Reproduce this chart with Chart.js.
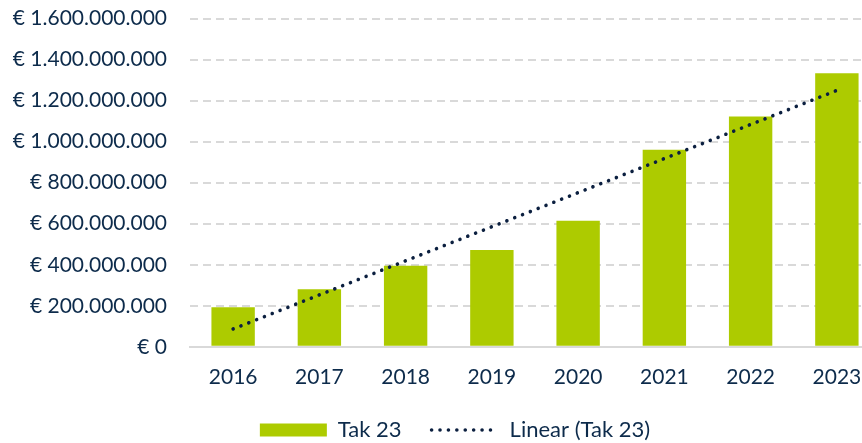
<!DOCTYPE html>
<html>
<head>
<meta charset="utf-8">
<script src="https://cdn.jsdelivr.net/npm/chart.js@4/dist/chart.umd.min.js"></script>
<style>
html,body{margin:0;padding:0;background:#fff;overflow:hidden;}
#wrap{width:880px;height:443px;}
</style>
</head>
<body>
<div id="wrap"><canvas id="c" width="880" height="443"></canvas></div>
<script>
const categories = ['2016','2017','2018','2019','2020','2021','2022','2023'];
const tak23 = [193e6, 281e6, 395e6, 472e6, 615e6, 961e6, 1123e6, 1334e6];
// trendline endpoints (2016 and 2023)
const linearTak23 = [87e6, null, null, null, null, null, null, 1250e6];
const seriesNames = ['Tak 23', 'Linear (Tak 23)'];
const yMax = 1600e6;
const yStep = 200e6;

const navy = '#0D2B4B';
const dotColor = '#0B1F3F';
const FONT = 'Lato';
const DOT_DASH = [0.01, 8.4];

function euro(v){
  return '€ ' + String(Math.round(v)).replace(/\B(?=(\d{3})+(?!\d))/g, '.');
}

const legendShift = {
  id: 'legendShift',
  afterLayout(chart){
    const lg = chart.legend;
    if (!lg) return;
    const dx = 15;
    const dy = 451 - lg.bottom;
    lg.left += dx; lg.right += dx;
    lg.top += dy; lg.bottom += dy;
  }
};

new Chart(document.getElementById('c'), {
  type: 'bar',
  data: {
    labels: categories,
    datasets: [
      {
        type: 'line',
        label: seriesNames[1],
        data: linearTak23,
        spanGaps: true,
        borderColor: dotColor,
        backgroundColor: dotColor,
        borderWidth: 3.6,
        borderDash: DOT_DASH,
        borderCapStyle: 'round',
        pointRadius: 0,
        pointHoverRadius: 0,
        pointStyle: 'line',
        fill: false,
        order: 0
      },
      {
        type: 'bar',
        label: seriesNames[0],
        data: tak23,
        backgroundColor: '#ADCB00',
        borderWidth: 0,
        barPercentage: 0.503,
        categoryPercentage: 1,
        pointStyle: 'rect',
        order: 1
      }
    ]
  },
  options: {
    responsive: false,
    animation: false,
    devicePixelRatio: 1,
    layout: { padding: { left: 0, right: 0, top: 0, bottom: -27 } },
    plugins: {
      tooltip: { enabled: false },
      legend: {
        position: 'bottom',
        reverse: true,
        labels: {
          usePointStyle: true,
          pointStyleWidth: 67,
          boxWidth: 67,
          boxHeight: 13,
          padding: 30,
          color: navy,
          font: { family: FONT, size: 22 },
          generateLabels(chart){
            const items = Chart.defaults.plugins.legend.labels.generateLabels(chart);
            items.forEach(it => {
              if (it.datasetIndex === 0) {
                it.lineDash = DOT_DASH;
                it.lineCap = 'round';
                it.lineWidth = 3.6;
                it.strokeStyle = dotColor;
              }
            });
            return items;
          }
        }
      }
    },
    scales: {
      x: {
        grid: { display: false, drawTicks: false },
        border: { display: true, color: '#D9D9D9', width: 2 },
        ticks: { color: navy, font: { family: FONT, size: 21 }, padding: 18, maxRotation: 0 }
      },
      y: {
        min: 0,
        max: yMax,
        afterFit: (s) => { s.width = 190; },
        grid: { color: '#D9D9D9', lineWidth: 2, drawTicks: true, tickLength: 17, tickColor: 'rgba(0,0,0,0)' },
        border: { display: false, dash: [8, 5] },
        ticks: {
          stepSize: yStep,
          color: navy,
          font: { family: FONT, size: 21 },
          padding: 6,
          callback: (v) => euro(v)
        }
      }
    }
  },
  plugins: [legendShift]
});
</script>
</body>
</html>
